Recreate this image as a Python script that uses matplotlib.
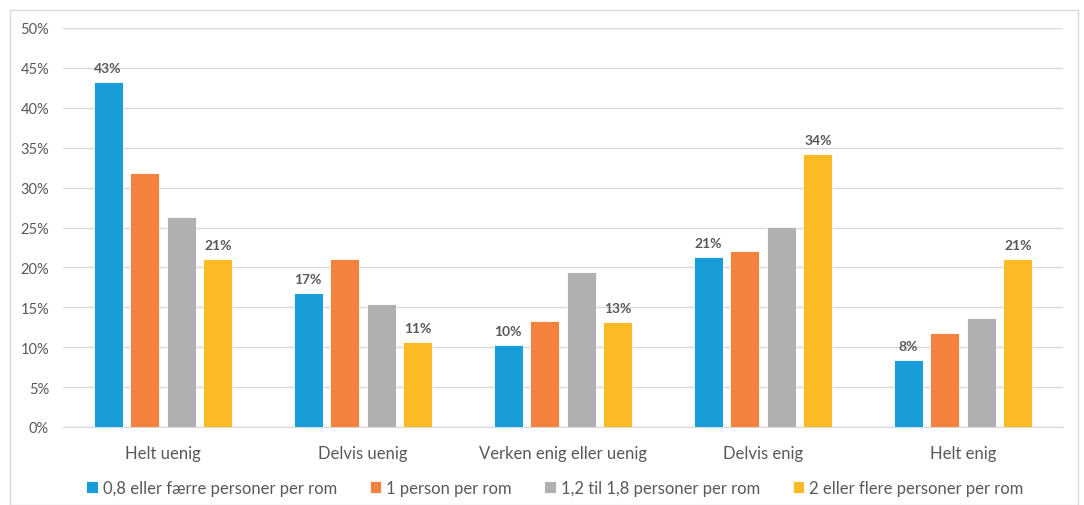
import numpy as np
import matplotlib.pyplot as plt
from matplotlib.patches import Rectangle
from matplotlib.ticker import FuncFormatter

plt.rcParams['font.family'] = ['Lato', 'DejaVu Sans']

categories = ["Helt uenig", "Delvis uenig", "Verken enig eller uenig", "Delvis enig", "Helt enig"]
series_names = [
    "0,8 eller færre personer per rom",
    "1 person per rom",
    "1,2 til 1,8 personer per rom",
    "2 eller flere personer per rom",
]
s_low = [43.2, 16.8, 10.3, 21.3, 8.4]
s_one = [31.8, 21.0, 13.3, 22.1, 11.8]
s_mid = [26.3, 15.4, 19.4, 25.1, 13.7]
s_high = [21.1, 10.6, 13.2, 34.2, 21.1]
colors = ["#189dd9", "#f3823f", "#b0b0b3", "#fcba25"]
labelled = [True, False, False, True]

text_col = "#595959"

fig = plt.figure(figsize=(10.84, 5.06), dpi=100)
ax = fig.add_axes([63 / 1084, 1 - 428 / 506, 1000 / 1084, 399 / 506])

# outer chart frame
fig.patches.append(Rectangle((10 / 1084, 0), 1068 / 1084, 1 - 11 / 506,
                             transform=fig.transFigure, fill=False,
                             edgecolor="#d9d9d9", linewidth=1))

x = np.arange(len(categories))
width = 0.145
step = 0.183
all_series = [s_low, s_one, s_mid, s_high]

for i, (vals, col) in enumerate(zip(all_series, colors)):
    offs = (i - 1.5) * step
    ax.bar(x + offs, vals, width, color=col, edgecolor="white",
           linewidth=0.6, label=series_names[i], zorder=3)
    if labelled[i]:
        for xi, v in zip(x + offs, vals):
            ax.text(xi, v + 1.0, f"{round(v)}%", ha="center", va="bottom",
                    fontsize=10, fontweight="bold", color=text_col)

ax.set_xlim(-0.5, len(categories) - 0.5)
ax.set_ylim(0, 50)
ax.set_yticks(np.arange(0, 51, 5))
ax.yaxis.set_major_formatter(FuncFormatter(lambda v, _: f"{v:.0f}%"))
ax.grid(axis="y", color="#d9d9d9", linewidth=1, zorder=0)
ax.set_xticks(x)
ax.set_xticklabels(categories)

for sp in ["top", "right", "left"]:
    ax.spines[sp].set_visible(False)
ax.spines["bottom"].set_color("#d9d9d9")
ax.tick_params(axis="both", length=0, colors=text_col)
ax.tick_params(axis="y", labelsize=10.5, pad=10)
ax.tick_params(axis="x", labelsize=12, pad=13)

ax.legend(loc="center", bbox_to_anchor=(0.492, -0.152), ncol=4,
          frameon=False, fontsize=12, labelcolor=text_col,
          handlelength=0.7, handleheight=0.7, handletextpad=0.3,
          columnspacing=1.95)

fig.savefig("out.png", dpi=100)
